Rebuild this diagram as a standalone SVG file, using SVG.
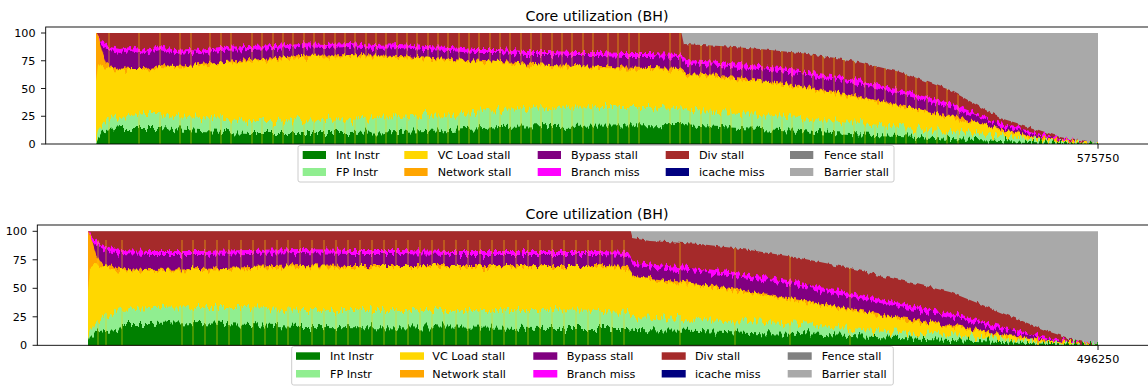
<svg xmlns="http://www.w3.org/2000/svg" width="1148" height="386" viewBox="0 0 1148 386">
<style>
  text { font-family: "DejaVu Sans", "Liberation Sans", sans-serif; fill: #000; }
  .tick { font-size: 11.2px; }
  .yt { text-anchor: end; }
  .xt { text-anchor: middle; }
  .ttl { font-size: 14.2px; text-anchor: middle; }
  .spine { fill: none; stroke: #000; stroke-width: 0.9; }
  .tk { stroke: #000; stroke-width: 0.9; }
  .legbox { fill: #fff; fill-opacity: 0.8; stroke: #ccc; stroke-width: 1; }
  .spk { fill: none; stroke: #FFD700; stroke-width: 1; stroke-opacity: 0.55; }
  .int { fill: #008000; }
  .fp { fill: #90EE90; }
  .vc { fill: #FFD700; }
  .net { fill: #FFA500; }
  .byp { fill: #800080; }
  .brm { fill: #FF00FF; }
  .ic { fill: #000080; }
  .div { fill: #A52A2A; }
  .fen { fill: #808080; }
  .bar { fill: #A9A9A9; }
</style>
<defs>
  <!-- per-sample jitter: vertical-only displacement driven by column noise,
       one strength per layer so every layer edge wobbles on its own -->
  <filter id="j-soft" color-interpolation-filters="sRGB" x="0" y="-0.1" width="1" height="1.2">
    <feTurbulence type="fractalNoise" baseFrequency="0.3 0.02" numOctaves="2" seed="2" result="noise"/>
    <feColorMatrix in="noise" type="matrix" values="0 0 0 0 0.5  0 1 0 0 0  0 0 0 0 0.5  0 0 0 0 1" result="map"/>
    <feDisplacementMap in="SourceGraphic" in2="map" scale="6" xChannelSelector="R" yChannelSelector="G"/>
  </filter>
  <filter id="j-mid" color-interpolation-filters="sRGB" x="0" y="-0.1" width="1" height="1.2">
    <feTurbulence type="fractalNoise" baseFrequency="0.35 0.02" numOctaves="2" seed="5" result="noise"/>
    <feColorMatrix in="noise" type="matrix" values="0 0 0 0 0.5  0 1 0 0 0  0 0 0 0 0.5  0 0 0 0 1" result="map"/>
    <feDisplacementMap in="SourceGraphic" in2="map" scale="11" xChannelSelector="R" yChannelSelector="G"/>
  </filter>
  <filter id="j-mid2" color-interpolation-filters="sRGB" x="0" y="-0.1" width="1" height="1.2">
    <feTurbulence type="fractalNoise" baseFrequency="0.35 0.02" numOctaves="2" seed="11" result="noise"/>
    <feColorMatrix in="noise" type="matrix" values="0 0 0 0 0.5  0 1 0 0 0  0 0 0 0 0.5  0 0 0 0 1" result="map"/>
    <feDisplacementMap in="SourceGraphic" in2="map" scale="13" xChannelSelector="R" yChannelSelector="G"/>
  </filter>
  <filter id="j-hard" color-interpolation-filters="sRGB" x="0" y="-0.1" width="1" height="1.2">
    <feTurbulence type="fractalNoise" baseFrequency="0.4 0.02" numOctaves="2" seed="7" result="noise"/>
    <feColorMatrix in="noise" type="matrix" values="0 0 0 0 0.5  0 1 0 0 0  0 0 0 0 0.5  0 0 0 0 1" result="map"/>
    <feDisplacementMap in="SourceGraphic" in2="map" scale="18" xChannelSelector="R" yChannelSelector="G"/>
  </filter>
  <filter id="j-hard2" color-interpolation-filters="sRGB" x="0" y="-0.1" width="1" height="1.2">
    <feTurbulence type="fractalNoise" baseFrequency="0.4 0.02" numOctaves="2" seed="19" result="noise"/>
    <feColorMatrix in="noise" type="matrix" values="0 0 0 0 0.5  0 1 0 0 0  0 0 0 0 0.5  0 0 0 0 1" result="map"/>
    <feDisplacementMap in="SourceGraphic" in2="map" scale="15" xChannelSelector="R" yChannelSelector="G"/>
  </filter>

  <!-- upper chart: stacked layer outlines (each filled down to the baseline) -->
  <path id="t-div" d="M96,25H680L684,44L720,46L760,49L800,53L850,60L900,72L950,90L1000,118L1030,127L1060,137L1080,141L1098,144V150H96Z"/>
  <path id="t-brm" d="M96,33L98,36L102,42L110,47L120,49L130,47L145,50L160,46L175,50L190,49L200,50L220,47L250,46L275,45L300,43L325,44L350,43L375,45L400,44L425,46L450,47L475,49L500,49L525,51L550,51L575,52L600,52L625,53L650,53L680,54L686,60L720,62L760,66L800,70L850,78L900,90L950,103L1000,123L1030,131L1060,139L1098,144V150H96Z"/>
  <path id="t-byp" d="M96,35L98,40L102,46L110,51L120,53L130,51L145,54L160,50L175,54L190,53L200,54L220,51L250,50L275,49L300,47L325,48L350,47L375,49L400,48L425,50L450,51L475,53L500,53L525,55L550,55L575,56L600,56L625,57L650,57L680,58L686,64L720,66L760,70L800,74L850,82L900,94L950,107L1000,126.5L1030,134L1060,140L1098,144V150H96Z"/>
  <path id="t-net" d="M96,33L99,38L102,50L106,62L112,67L130,69L145,69L160,66L175,67L200,65L225,62L250,60L275,58L300,56L350,55L400,56L450,59L500,62L550,65L600,67L650,68L680,69L686,74L720,76L760,81L800,86L850,95L900,105L950,116L1000,129.5L1030,136L1060,140.5L1098,144V150H96Z"/>
  <path id="t-vc" d="M96,80L98,64L102,68L110,69L130,70L145,70L160,67L175,68L200,66L225,63L250,61L275,59L300,57L350,56L400,57L450,60L500,63L550,66L600,68L650,69L680,70L686,75L720,77L760,82L800,87L850,96L900,106L950,117L1000,130.5L1030,137L1060,141L1098,144V150H96Z"/>
  <path id="t-fp" d="M96,140L98,130L102,124L110,118L120,116L130,115L145,113L160,113L175,115L200,117L225,119L250,121L275,121L300,120L325,121L350,120L375,118L400,117L425,115L450,114L475,112L500,110L525,109L550,108L600,107L650,107L680,108L690,111L720,112L760,114L800,117L850,122L900,127L950,132L1000,136L1030,139L1060,142L1098,144V150H96Z"/>
  <path id="t-int" d="M96,143L98,138L102,132L110,130L120,128L160,128L200,131L250,133L350,133L400,132L450,130L500,127L550,126L680,125L720,127L760,129L800,131L850,134L900,136L950,139L1000,141L1060,143L1098,144V150H96Z"/>

  <!-- lower chart -->
  <path id="b-div" d="M88,222H628L632,238L650,241L700,244L750,250L800,258L850,268L900,280L950,292L1000,312L1050,332L1075,340L1098,345.3V352H88Z"/>
  <path id="b-brm" d="M88,231L90,234L95,240L105,246L120,250L150,251L200,251L250,250L300,249L350,250L400,250L450,251L500,251L550,251L600,251L628,252L634,262L700,268L750,275L800,283L850,293L900,303L950,313L1000,326L1050,338L1098,345.3V352H88Z"/>
  <path id="b-byp" d="M88,233L90,238L95,244L105,250L120,254L150,255L200,255L250,254L300,253L350,254L400,254L450,255L500,255L550,255L600,255L628,256L634,266L700,272L750,279L800,287L850,297L900,307L950,317L1000,329L1050,340L1098,345.3V352H88Z"/>
  <path id="b-net" d="M88,231L92,240L96,254L100,262L105,265L120,269L150,270L200,269L250,267L300,265L350,266L400,266L450,266L500,266L550,266L600,266L628,267L634,276L700,284L750,292L800,300L850,309L900,318L950,325L1000,334L1050,341L1098,345.3V352H88Z"/>
  <path id="b-vc" d="M88,290L90,268L95,264L105,266L120,270L150,271L200,270L250,268L300,266L350,267L400,267L450,267L500,267L550,267L600,267L628,268L634,277L700,285L750,293L800,301L850,310L900,319L950,326L1000,335L1050,341.5L1098,345.3V352H88Z"/>
  <path id="b-fp" d="M88,340L90,330L95,322L105,318L120,310L150,308L200,307L250,307L300,310L350,310L400,310L450,310L500,310L550,310L600,311L628,312L634,317L700,320L750,322L800,325L850,328L900,332L950,335L1000,339L1050,343L1098,345.3V352H88Z"/>
  <path id="b-int" d="M88,343L90,338L95,333L105,331L118,330L122,324L150,324L200,323L250,325L300,327L550,328L628,328L634,330L700,331L750,333L800,334L850,336L900,338L950,340L1000,342L1050,344L1098,345.3V352H88Z"/>

  <clipPath id="t-plot"><rect x="96" y="33" width="1002" height="111"/></clipPath>
  <clipPath id="b-plot"><rect x="88" y="231.3" width="1010" height="114"/></clipPath>
  <clipPath id="t-under"><use href="#t-div"/></clipPath>
  <clipPath id="b-under"><use href="#b-div"/></clipPath>
</defs>

<rect width="1148" height="386" fill="#fff"/>

<!-- ===== upper chart ===== -->
<g id="chart-top">
  <text class="ttl" x="597" y="21">Core utilization (BH)</text>
  <g clip-path="url(#t-plot)">
    <rect class="bar" x="96" y="25" width="1002" height="125"/>
    <use href="#t-div" class="div" filter="url(#j-soft)"/>
    <use href="#t-brm" class="brm" filter="url(#j-mid)"/>
    <use href="#t-byp" class="byp" filter="url(#j-mid2)"/>
    <use href="#t-net" class="net" filter="url(#j-mid)"/>
    <use href="#t-vc" class="vc" filter="url(#j-mid2)"/>
    <use href="#t-fp" class="fp" filter="url(#j-hard)"/>
    <use href="#t-int" class="int" filter="url(#j-hard2)"/>
    <path class="spk" clip-path="url(#t-under)" d="M109,30v120M139,30v120M160,30v120M180,30v120M191,30v120M210,30v120M221,30v120M231,30v120M252,30v120M262,30v120M273,30v120M283,30v120M293,30v120M304,30v120M314,30v120M324,30v120M335,30v120M345,30v120M355,30v120M366,30v120M376,30v120M386,30v120M397,30v120M407,30v120M417,30v120M428,30v120M438,30v120M448,30v120M459,30v120M469,30v120M479,30v120M490,30v120M500,30v120M510,30v120M521,30v120M531,30v120M541,30v120M552,30v120M562,30v120M572,30v120M583,30v120M593,30v120M608,30v120M618,30v120M629,30v120M639,30v120M670,30v120M680,30v120M690,30v120M701,30v120M710,30v120M721,30v120M731,30v120M742,30v120M752,30v120M762,30v120M772,30v120M782,30v120M792,30v120M803,30v120M813,30v120M823,30v120M834,30v120M844,30v120M854,30v120M865,30v120M875,30v120M885,30v120M896,30v120M906,30v120M916,30v120M927,30v120M937,30v120M947,30v120M958,30v120"/>
  </g>
  <rect class="spine" x="45.7" y="27" width="1110" height="117"/>
  <g class="tk">
    <line x1="41" y1="33" x2="45.7" y2="33"/>
    <line x1="41" y1="60.75" x2="45.7" y2="60.75"/>
    <line x1="41" y1="88.5" x2="45.7" y2="88.5"/>
    <line x1="41" y1="116.25" x2="45.7" y2="116.25"/>
    <line x1="41" y1="144" x2="45.7" y2="144"/>
    <line x1="1098" y1="144" x2="1098" y2="148.7"/>
  </g>
  <g class="tick">
    <text class="yt" x="35.5" y="37">100</text>
    <text class="yt" x="35.5" y="64.75">75</text>
    <text class="yt" x="35.5" y="92.5">50</text>
    <text class="yt" x="35.5" y="120.25">25</text>
    <text class="yt" x="35.5" y="148">0</text>
    <text class="xt" x="1098" y="161.5">575750</text>
  </g>
</g>

<g id="legend-top" class="tick">
  <rect class="legbox" x="298" y="145.5" width="596" height="36.5" rx="2"/>
  <rect class="int" x="302.7" y="151" width="23.3" height="8"/><text x="336" y="159">Int Instr</text>
  <rect class="fp" x="302.7" y="168" width="23.3" height="8"/><text x="336" y="176">FP Instr</text>
  <rect class="vc" x="404.3" y="151" width="23.3" height="8"/><text x="437.7" y="159">VC Load stall</text>
  <rect class="net" x="404.3" y="168" width="23.3" height="8"/><text x="437.7" y="176">Network stall</text>
  <rect class="byp" x="537.7" y="151" width="23.3" height="8"/><text x="571" y="159">Bypass stall</text>
  <rect class="brm" x="537.7" y="168" width="23.3" height="8"/><text x="571" y="176">Branch miss</text>
  <rect class="div" x="665.7" y="151" width="23.3" height="8"/><text x="699" y="159">Div stall</text>
  <rect class="ic" x="665.7" y="168" width="23.3" height="8"/><text x="699" y="176">icache miss</text>
  <rect class="fen" x="790" y="151" width="23.3" height="8"/><text x="824" y="159">Fence stall</text>
  <rect class="bar" x="790" y="168" width="23.3" height="8"/><text x="824" y="176">Barrier stall</text>
</g>

<!-- ===== lower chart ===== -->
<g id="chart-bottom">
  <text class="ttl" x="597" y="219">Core utilization (BH)</text>
  <g clip-path="url(#b-plot)">
    <rect class="bar" x="88" y="222" width="1010" height="130"/>
    <use href="#b-div" class="div" filter="url(#j-soft)"/>
    <use href="#b-brm" class="brm" filter="url(#j-mid)"/>
    <use href="#b-byp" class="byp" filter="url(#j-mid2)"/>
    <use href="#b-net" class="net" filter="url(#j-mid)"/>
    <use href="#b-vc" class="vc" filter="url(#j-mid2)"/>
    <use href="#b-fp" class="fp" filter="url(#j-hard)"/>
    <use href="#b-int" class="int" filter="url(#j-hard2)"/>
    <path class="spk" clip-path="url(#b-under)" d="M98,240v112M106,240v112M122,240v112M182,240v112M193,240v112M205,240v112M217,240v112M229,240v112M241,240v112M253,240v112M265,240v112M277,240v112M288,240v112M300,240v112M312,240v112M324,240v112M336,240v112M348,240v112M360,240v112M372,240v112M384,240v112M396,240v112M408,240v112M420,240v112M432,240v112M444,240v112M456,240v112M468,240v112M480,240v112M492,240v112M504,240v112M516,240v112M528,240v112M540,240v112M552,240v112M564,240v112M576,240v112M588,240v112M600,240v112M612,240v112M624,240v112M680,240v112M735,240v112M790,240v112M850,240v112"/>
  </g>
  <rect class="spine" x="37.3" y="225" width="1120" height="120.3"/>
  <g class="tk">
    <line x1="32.6" y1="231.3" x2="37.3" y2="231.3"/>
    <line x1="32.6" y1="259.8" x2="37.3" y2="259.8"/>
    <line x1="32.6" y1="288.3" x2="37.3" y2="288.3"/>
    <line x1="32.6" y1="316.8" x2="37.3" y2="316.8"/>
    <line x1="32.6" y1="345.3" x2="37.3" y2="345.3"/>
    <line x1="1098" y1="345.3" x2="1098" y2="350"/>
  </g>
  <g class="tick">
    <text class="yt" x="27" y="235.3">100</text>
    <text class="yt" x="27" y="263.8">75</text>
    <text class="yt" x="27" y="292.3">50</text>
    <text class="yt" x="27" y="320.8">25</text>
    <text class="yt" x="27" y="349.3">0</text>
    <text class="xt" x="1098" y="362.5">496250</text>
  </g>
</g>

<g id="legend-bottom" class="tick">
  <rect class="legbox" x="291.7" y="346.5" width="601.6" height="38.5" rx="2"/>
  <rect class="int" x="296" y="352.3" width="24" height="7.5"/><text x="330" y="360">Int Instr</text>
  <rect class="fp" x="296" y="370" width="24" height="7.5"/><text x="330" y="377.5">FP Instr</text>
  <rect class="vc" x="400" y="352.3" width="24" height="7.5"/><text x="432.3" y="360">VC Load stall</text>
  <rect class="net" x="400" y="370" width="24" height="7.5"/><text x="432.3" y="377.5">Network stall</text>
  <rect class="byp" x="533.3" y="352.3" width="24" height="7.5"/><text x="566.7" y="360">Bypass stall</text>
  <rect class="brm" x="533.3" y="370" width="24" height="7.5"/><text x="566.7" y="377.5">Branch miss</text>
  <rect class="div" x="661.7" y="352.3" width="24" height="7.5"/><text x="695" y="360">Div stall</text>
  <rect class="ic" x="661.7" y="370" width="24" height="7.5"/><text x="695" y="377.5">icache miss</text>
  <rect class="fen" x="787.7" y="352.3" width="24" height="7.5"/><text x="821.7" y="360">Fence stall</text>
  <rect class="bar" x="787.7" y="370" width="24" height="7.5"/><text x="821.7" y="377.5">Barrier stall</text>
</g>
</svg>
